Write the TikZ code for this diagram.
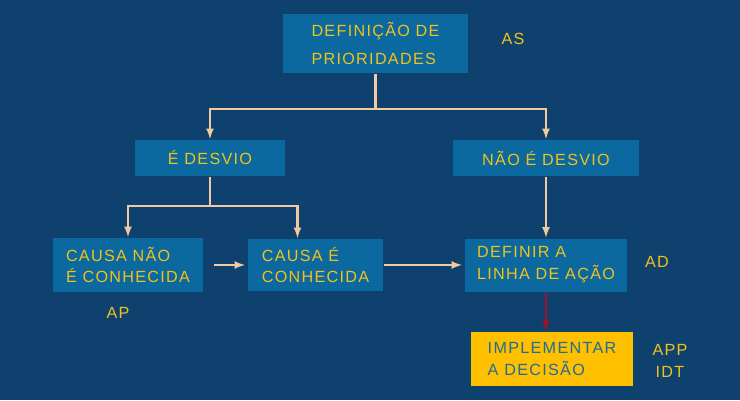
\documentclass[tikz,border=0pt]{standalone}
\usepackage{fontspec}
\usetikzlibrary{positioning}
\usetikzlibrary{calc}
\newfontfamily\handfont[LetterSpace=8]{Liberation Sans}
\newcommand\pxu{0.025cm}
\definecolor{bgblue}{HTML}{0F416F}
\definecolor{boxblue}{HTML}{0B69A0}
\definecolor{txtyellow}{HTML}{F0C21A}
\definecolor{linepeach}{HTML}{F3C9A2}
\definecolor{gold}{HTML}{FFC000}
\definecolor{darkred}{HTML}{A3102C}
\definecolor{txtblue}{HTML}{1E6C9C}
\tikzset{every picture/.style={line width=1.5pt},
box/.style={fill=boxblue,text=txtyellow,align=left,inner sep=0pt,font=\handfont\fontsize{11.5}{15.5}\selectfont},
tag/.style={text=txtyellow,font=\handfont\fontsize{11.5}{15.5}\selectfont},
link/.style={draw=linepeach,-latex}}

\begin{document}
\begin{tikzpicture}[x=0.025cm,y=-0.025cm]
\fill[bgblue] (0,0) rectangle (740,400);
\node (prio) at (375.5,43.5) [box,minimum width=185*\pxu,minimum height=59*\pxu,font=\handfont\fontsize{11.5}{19.5}\selectfont] {DEFINIÇÃO DE\\PRIORIDADES};
\node (desvio) at (210,158) [box,minimum width=150*\pxu,minimum height=36*\pxu] {É DESVIO};
\node (naodesvio) at (546,158) [box,minimum width=186*\pxu,minimum height=36*\pxu] {NÃO É DESVIO};
\node (causanao) at (128,265) [box,minimum width=150*\pxu,minimum height=54*\pxu] {CAUSA NÃO\\É CONHECIDA};
\node (causasim) at (315.5,265) [box,minimum width=135*\pxu,minimum height=52*\pxu] {CAUSA É\\CONHECIDA};
\node (linha) at (546,265) [box,minimum width=162*\pxu,minimum height=53*\pxu] {DEFINIR A\\LINHA DE AÇÃO};
\node (decisao) at (552,359) [box,fill=gold,text=txtblue,minimum width=162*\pxu,minimum height=54*\pxu] {IMPLEMENTAR\\A DECISÃO};
\node (as) at (513,39) [tag] {AS};
\node (ad) at (657,262) [tag] {AD};
\node (ap) at (118,313) [tag] {AP};
\node (app) at (670,350) [tag] {APP};
\node (idt) at (670,372) [tag] {IDT};
% ligacoes
\draw[linepeach] (prio.south) -- ++(0,35) coordinate (split1);
\draw[link] (split1) -| (desvio.north);
\draw[link] (split1) -| (naodesvio.north);
\draw[linepeach] (desvio.south) -- ++(0,29) coordinate (split2);
\draw[link] (split2) -| (causanao.north);
\draw[link] (split2) -| ([xshift=-18*\pxu]causasim.north);
\draw[link,shorten <=10*\pxu,shorten >=2*\pxu] (causanao.east) -- (causasim.west);
\draw[link,shorten >=2*\pxu] (causasim.east) -- (linha.west);
\draw[link] (naodesvio.south) -- (linha.north);
\draw[darkred,-latex] (linha.south) -- (linha.south |- decisao.north);
\end{tikzpicture}
\end{document}
